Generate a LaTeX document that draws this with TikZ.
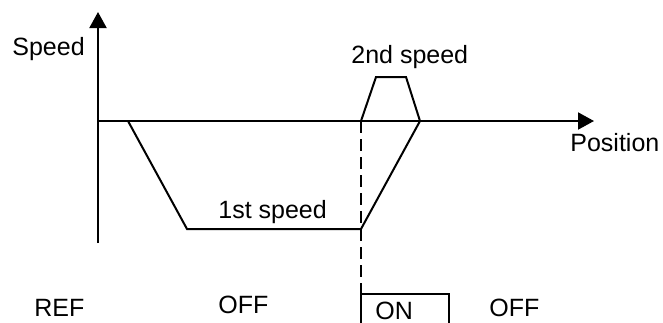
\documentclass[tikz,border=0pt]{standalone}
\usepackage{fontspec}
\setmainfont{Liberation Sans}
\usetikzlibrary{arrows.meta}
\begin{document}
\begin{tikzpicture}[x=0.5pt,y=-0.5pt,
  lbl/.style={inner sep=0pt,anchor=base west,font=\fontsize{12.5pt}{14pt}\selectfont},
  ln/.style={line width=1pt,line join=miter},
  axis/.style={ln,-{Triangle[length=8pt,width=8.5pt]}},
  dashline/.style={line width=1pt,dash pattern=on 6pt off 3pt}]
\useasboundingbox (0,0) rectangle (663,322);
% axes
\coordinate (o) at (98,121);
\coordinate (ybot) at (98,243);
\coordinate (ytop) at (98,12);
\coordinate (xend) at (594,121);
\draw[axis] (ybot) -- (ytop);
\draw[axis] (o) -- (xend);
% profile
\coordinate (p1) at (128,121);
\coordinate (p2) at (187,229);
\coordinate (p3) at (361,229);
\coordinate (p4) at (420,121);
\coordinate (q1) at (361,121);
\coordinate (q2) at (376,77);
\coordinate (q3) at (406,77);
\draw[ln] (p1) -- (p2) -- (p3) -- (p4);
\draw[ln] (q1) -- (q2) -- (q3) -- (p4);
% switch
\coordinate (bl) at (361,335);
\coordinate (tl) at (361,294);
\coordinate (tr) at (449,294);
\coordinate (br) at (449,335);
\draw[dashline] (q1) -- (tl);
\draw[line width=1pt] (bl) -- (tl) -- (tr) -- (br);
% labels
\node[lbl] (speed) at (12,55) {Speed};
\node[lbl] (pos) at (570,151) {Position};
\node[lbl] (s2) at (351,63) {2nd speed};
\node[lbl] (s1) at (218,218) {1st speed};
\node[lbl] (ref) at (34,316) {REF};
\node[lbl] (off1) at (218,313) {OFF};
\node[lbl] (on) at (375,319) {ON};
\node[lbl] (off2) at (489,316) {OFF};
\end{tikzpicture}
\end{document}
